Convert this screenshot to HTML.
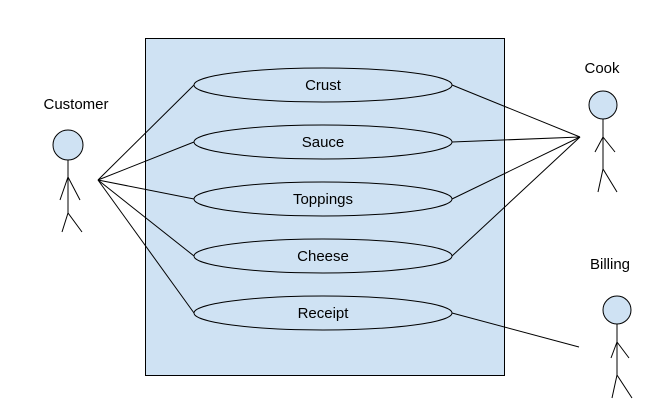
<!DOCTYPE html>
<html><head><style>body{margin:0;background:#fff}</style></head><body>
<svg width="668" height="414" xmlns="http://www.w3.org/2000/svg" font-family="Liberation Sans, sans-serif" font-size="15">
<rect x="145.5" y="38.5" width="359" height="337" fill="#cfe2f3" stroke="#000"/>
<g stroke="#000" fill="none">
<line x1="98" y1="180" x2="194" y2="85"/>
<line x1="98" y1="180" x2="194" y2="142"/>
<line x1="98" y1="180" x2="194" y2="199"/>
<line x1="98" y1="180" x2="194" y2="256"/>
<line x1="98" y1="180" x2="194" y2="313"/>
<line x1="580" y1="137" x2="452" y2="85"/>
<line x1="580" y1="137" x2="452" y2="142"/>
<line x1="580" y1="137" x2="452" y2="199"/>
<line x1="580" y1="137" x2="452" y2="256"/>
<line x1="579" y1="347" x2="452" y2="313"/>
</g>
<g stroke="#000" fill="#cfe2f3">
<ellipse cx="323" cy="85" rx="129" ry="17"/>
<ellipse cx="323" cy="142" rx="129" ry="17"/>
<ellipse cx="323" cy="199" rx="129" ry="17"/>
<ellipse cx="323" cy="256" rx="129" ry="17"/>
<ellipse cx="323" cy="313" rx="129" ry="17"/>
<circle cx="68" cy="145" r="15"/>
<circle cx="603" cy="105" r="14"/>
<circle cx="617" cy="310" r="14"/>
</g>
<g stroke="#000" fill="none">
<path d="M68 160V213M60 200L68 177L80 200M62 232L68 213L82 232"/>
<path d="M603 119V169M595 152L603 137L615 152M598 192L603 169L617 192"/>
<path d="M617 324V375M611 358L617 342L629 358M612 398L617 375L632 398"/>
</g>
<g text-anchor="middle" fill="#000">
<text x="323" y="90">Crust</text>
<text x="323" y="147">Sauce</text>
<text x="323" y="204">Toppings</text>
<text x="323" y="261">Cheese</text>
<text x="323" y="318">Receipt</text>
<text x="76" y="109">Customer</text>
<text x="602" y="73">Cook</text>
<text x="610" y="269">Billing</text>
</g>
</svg>
</body></html>
